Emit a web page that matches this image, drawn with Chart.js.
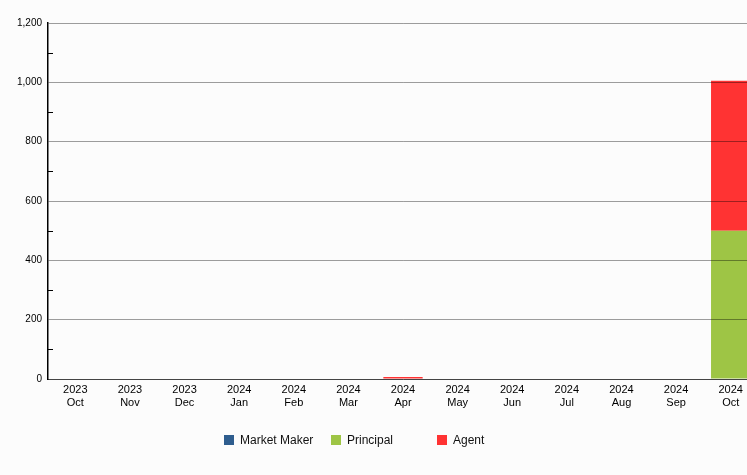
<!DOCTYPE html>
<html>
<head>
<meta charset="utf-8">
<script src="https://cdn.jsdelivr.net/npm/chart.js@4/dist/chart.umd.min.js"></script>
<style>
  html, body { margin: 0; padding: 0; background: #fcfcfc; overflow: hidden; }
  #wrap { position: relative; width: 760px; height: 475px; }
  #legend { position: absolute; top: 433px; left: 0; font: 12px "Liberation Sans", Arial, sans-serif; color: #111; }
  #legend span.item { position: absolute; white-space: nowrap; }
  #legend span.box { display: inline-block; width: 10px; height: 10px; vertical-align: -1px; margin-right: 6px; }
</style>
</head>
<body>
<div id="wrap">
  <canvas id="volumeChart"></canvas>
  <div id="legend"></div>
</div>
<script>
const months = [
  ['2023', 'Oct'], ['2023', 'Nov'], ['2023', 'Dec'], ['2024', 'Jan'], ['2024', 'Feb'],
  ['2024', 'Mar'], ['2024', 'Apr'], ['2024', 'May'], ['2024', 'Jun'], ['2024', 'Jul'],
  ['2024', 'Aug'], ['2024', 'Sep'], ['2024', 'Oct']
];
const marketMaker = [0, 0, 0, 0, 0, 0, 0, 0, 0, 0, 0, 0, 0];
const principal   = [0, 0, 0, 0, 0, 0, 0, 0, 0, 0, 0, 0, 500];
const agent       = [0, 0, 0, 0, 0, 0, 7, 0, 0, 0, 0, 0, 505];
const yTicks = [0, 200, 400, 600, 800, 1000, 1200];

const seriesColors = { 'Market Maker': '#2f5d8e', 'Principal': '#9ec545', 'Agent': '#ff3333' };

// short minor tick marks inside the y axis, halfway between labelled ticks
const minorTicks = {
  id: 'minorTicks',
  afterDraw(chart) {
    const y = chart.scales.y;
    const ctx = chart.ctx;
    ctx.save();
    ctx.strokeStyle = '#000';
    ctx.lineWidth = 1;
    for (let i = 0; i < yTicks.length - 1; i++) {
      const py = Math.round(y.getPixelForValue((yTicks[i] + yTicks[i + 1]) / 2)) + 0.5;
      ctx.beginPath();
      ctx.moveTo(y.right, py);
      ctx.lineTo(y.right + 5, py);
      ctx.stroke();
    }
    ctx.restore();
  }
};

const chart = new Chart(document.getElementById('volumeChart'), {
  type: 'bar',
  data: {
    labels: months,
    datasets: [
      { label: 'Market Maker', data: marketMaker, backgroundColor: seriesColors['Market Maker'] },
      { label: 'Principal', data: principal, backgroundColor: seriesColors['Principal'] },
      { label: 'Agent', data: agent, backgroundColor: seriesColors['Agent'] }
    ]
  },
  options: {
    responsive: true,
    maintainAspectRatio: false,
    animation: false,
    layout: { padding: { top: 23, right: 2, bottom: 0, left: 0 } },
    plugins: {
      legend: { display: false },
      tooltip: { enabled: false }
    },
    scales: {
      x: {
        stacked: true,
        grid: { display: false, drawTicks: false },
        border: { color: '#444', width: 1, z: 2 },
        ticks: {
          color: '#000',
          font: { family: 'Liberation Sans, Arial', size: 11 },
          padding: 4,
          maxRotation: 0,
          autoSkip: false
        },
        afterFit(scale) { scale.height = 96; }
      },
      y: {
        stacked: true,
        min: 0,
        max: 1200,
        afterBuildTicks(scale) { scale.ticks = yTicks.map(v => ({ value: v })); },
        grid: { color: 'rgba(0,0,0,0.38)', drawTicks: false, z: 1 },
        border: { color: '#000', width: 1.5, z: 2 },
        ticks: {
          color: '#000',
          font: { family: 'Liberation Sans, Arial', size: 10 },
          padding: 6,
          callback: v => v.toLocaleString('en-US')
        },
        afterFit(scale) { scale.width = 48; }
      }
    }
  },
  plugins: [minorTicks]
});

// legend with evenly spaced items
const legendEl = document.getElementById('legend');
const legendLeft = [224, 331, 437];
chart.data.datasets.forEach((ds, i) => {
  const item = document.createElement('span');
  item.className = 'item';
  item.style.left = legendLeft[i] + 'px';
  item.innerHTML = '<span class="box" style="background:' + ds.backgroundColor + '"></span>' + ds.label;
  legendEl.appendChild(item);
});
</script>
</body>
</html>
